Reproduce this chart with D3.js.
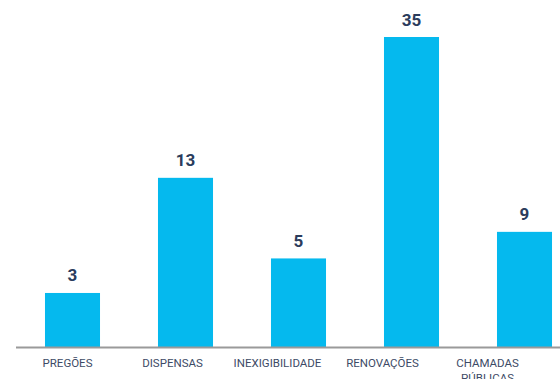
<!DOCTYPE html>
<html>
<head>
<meta charset="utf-8">
<script src="https://cdn.jsdelivr.net/npm/d3@7"></script>
<style>
  html, body { margin: 0; padding: 0; background: #fff; }
  svg { display: block; }
</style>
</head>
<body>
<div id="chart"></div>
<script>
// Categories (axis labels)
const categories = ["PREGÕES", "DISPENSAS", "INEXIGIBILIDADE", "RENOVAÇÕES", "CHAMADAS PÚBLICAS"];
// Value labels shown above the bars
const valueLabels = [3, 13, 5, 35, 9];
// Plotted bar levels (bars are not proportional to the labels)
const barLevels = [6.1, 19.1, 10.0, 35, 13.0];

const W = 560, H = 379;
const baseY = 347, topY = 37;

const svg = d3.select("#chart").append("svg")
  .attr("width", W).attr("height", H);

const y = d3.scaleLinear().domain([0, 35]).range([baseY, topY]);

const xBar = d3.scaleBand().domain(categories)
  .range([16, 581]).paddingInner(0.513).paddingOuter(0.2565);

const xLab = d3.scaleBand().domain(categories).range([15, 540]);

// bars
svg.selectAll("rect.bar").data(categories).join("rect")
  .attr("class", "bar")
  .attr("x", d => xBar(d))
  .attr("width", xBar.bandwidth())
  .attr("y", (d, i) => y(barLevels[i]))
  .attr("height", (d, i) => baseY - y(barLevels[i]))
  .attr("fill", "#05b9ee");

// value labels
svg.selectAll("text.val").data(categories).join("text")
  .attr("class", "val")
  .attr("x", d => xBar(d) + xBar.bandwidth() / 2)
  .attr("y", (d, i) => y(barLevels[i]) - 11.5)
  .attr("text-anchor", "middle")
  .attr("font-family", "Roboto, sans-serif")
  .attr("font-weight", "bold")
  .attr("font-size", "17px")
  .attr("fill", "#2b3c5c")
  .text((d, i) => valueLabels[i]);

// x axis
const axis = svg.append("g")
  .attr("transform", `translate(0,${baseY})`)
  .call(d3.axisBottom(xLab).tickSize(0).tickPadding(0));
axis.select(".domain").remove();
axis.append("line")
  .attr("x1", 16).attr("x2", W).attr("y1", 0.5).attr("y2", 0.5)
  .attr("stroke", "#9a9a9a").attr("stroke-width", 2);

axis.selectAll(".tick text").each(function(d) {
  const t = d3.select(this);
  t.text(null)
   .attr("font-family", "Roboto, sans-serif")
   .attr("font-size", "11.5px")
   .attr("fill", "#3d4b66")
   .attr("y", 19.5)
   .attr("dy", null);
  const words = d.split(" ");
  words.forEach((w, i) => {
    t.append("tspan").attr("x", 0).attr("dy", i === 0 ? 0 : 15.5).text(w);
  });
});
</script>
</body>
</html>
